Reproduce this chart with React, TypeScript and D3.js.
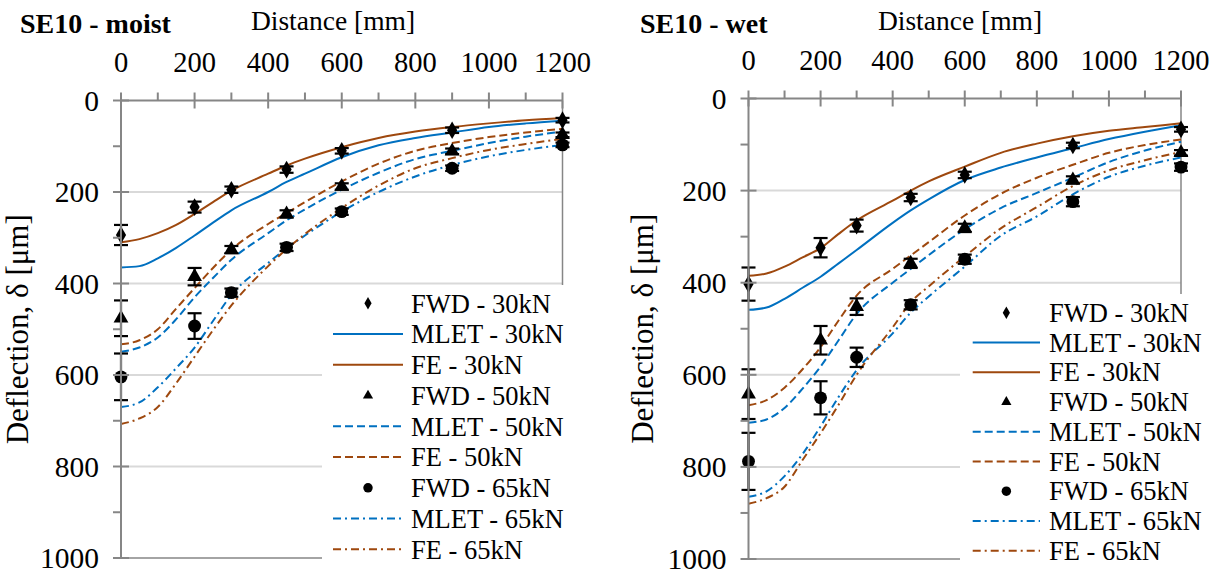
import { scaleLinear, line, curveMonotoneX, symbol, symbolDiamond, symbolTriangle, symbolCircle, range } from 'd3'

const width = 1227
const height = 581

const font = "'Liberation Serif', 'Times New Roman', Times, serif"
const blue = '#0070c0'
const brown = '#9e480e'
const axisColor = '#868686'
const gridColor = '#d9d9d9'

// FWD geophone offsets
const fwdDist = [0, 200, 300, 450, 600, 900, 1200]
// model output sampling
const modelDist = [0, 50, 100, 150, 200, 250, 300, 400, 450, 500, 600, 700, 800, 900, 1000, 1100, 1200]

const xTicks = [0, 200, 400, 600, 800, 1000, 1200]
const yTicks = [0, 200, 400, 600, 800, 1000]
const gridTicks = [200, 400, 600, 800]

// SE10 - moist
const moistFwd30 = [294, 233, 195, 151, 110, 65, 43]
const moistFwd30Err = [22, 12, 7, 7, 6, 6, 5]
const moistFwd50 = [476, 385, 326, 248, 188, 111, 75]
const moistFwd50Err = [39, 19, 8, 8, 7, 6, 5]
const moistFwd65 = [604, 493, 420, 321, 243, 148, 97]
const moistFwd65Err = [51, 28, 9, 8, 7, 6, 5]
const moistMlet30 = [365, 362, 345, 322, 295, 267, 240, 200, 178, 160, 124, 98, 82, 70, 58, 50, 44]
const moistFe30 = [310, 303, 290, 272, 248, 222, 197, 160, 142, 127, 102, 82, 68, 58, 50, 43, 38]
const moistMlet50 = [549, 540, 518, 478, 430, 388, 348, 290, 262, 238, 195, 158, 128, 110, 93, 79, 68]
const moistFe50 = [533, 524, 500, 455, 410, 366, 326, 270, 246, 222, 177, 138, 110, 93, 80, 70, 62]
const moistMlet65 = [670, 660, 627, 585, 540, 482, 425, 355, 323, 295, 243, 200, 166, 141, 122, 108, 97]
const moistFe65 = [707, 695, 670, 618, 560, 502, 448, 362, 325, 292, 235, 186, 148, 126, 108, 95, 84]

// SE10 - wet
const wetFwd30 = [403, 324, 276, 215, 166, 102, 67]
const wetFwd30Err = [36, 21, 13, 8, 7, 6, 5]
const wetFwd50 = [642, 525, 452, 358, 281, 177, 118]
const wetFwd50Err = [54, 31, 18, 10, 9, 8, 6]
const wetFwd65 = [788, 650, 562, 448, 349, 224, 149]
const wetFwd65Err = [62, 36, 21, 10, 10, 10, 8]
const wetMlet30 = [459, 454, 435, 411, 387, 358, 329, 270, 243, 219, 177, 150, 128, 108, 88, 72, 58]
const wetFe30 = [385, 380, 365, 345, 325, 294, 265, 222, 200, 180, 148, 118, 98, 82, 70, 62, 54]
const wetMlet50 = [704, 697, 672, 630, 582, 525, 468, 400, 370, 340, 284, 238, 205, 172, 138, 113, 94]
const wetFe50 = [666, 655, 628, 588, 540, 482, 428, 370, 341, 312, 254, 207, 172, 144, 118, 101, 89]
const wetMlet65 = [865, 853, 820, 772, 712, 648, 590, 510, 465, 430, 365, 298, 256, 208, 170, 146, 128]
const wetFe65 = [880, 868, 843, 785, 727, 665, 600, 497, 443, 408, 343, 282, 236, 190, 156, 134, 116]

const legendLabels = [
  'FWD - 30kN', 'MLET - 30kN', 'FE - 30kN',
  'FWD - 50kN', 'MLET - 50kN', 'FE - 50kN',
  'FWD - 65kN', 'MLET - 65kN', 'FE - 65kN',
]

const dashes = ['none', '8 4', '8 4 2 4']
const shapes = [symbolDiamond, symbolTriangle, symbolCircle]
const shapeSizes = [90, 95, 130]
const legendSizes = [45, 45, 70]

function Panel({ title, xr, yr, fwd, fwdErr, mlet, fe, titleX, distX, yTitleX, legend }) {
  const x = scaleLinear().domain([0, 1200]).range(xr)
  const y = scaleLinear().domain([0, 1000]).range(yr)
  const path = line().x((d, i) => x(modelDist[i])).y((d) => y(d)).curve(curveMonotoneX)

  const rowY = (i) => legend.y0 + i * legend.step
  const txt = { fontFamily: font }
  return (
    <g fill="#000">
      {/* gridlines */}
      {gridTicks.map((t) => (
        <line key={t} x1={xr[0]} x2={xr[1]} y1={y(t)} y2={y(t)} stroke={gridColor} strokeWidth={2} />
      ))}
      {/* plot border right / bottom */}
      <line x1={xr[1]} x2={xr[1]} y1={yr[0]} y2={yr[1]} stroke={axisColor} strokeWidth={1.5} />
      <line x1={xr[0]} x2={xr[1]} y1={yr[1]} y2={yr[1]} stroke={axisColor} strokeWidth={1.5} />

      {/* model lines */}
      {[0, 1, 2].map((k) => (
        <g key={k}>
          <path d={path(mlet[k])} fill="none" stroke={blue} strokeWidth={2} strokeDasharray={dashes[k]} />
          <path d={path(fe[k])} fill="none" stroke={brown} strokeWidth={2} strokeDasharray={dashes[k]} />
        </g>
      ))}

      {/* FWD points with error bars */}
      {[0, 1, 2].map((k) => (
        <g key={k}>
          {fwd[k].map((v, i) => {
            const cx = x(fwdDist[i])
            const lo = y(v - fwdErr[k][i])
            const hi = y(v + fwdErr[k][i])
            return (
              <g key={i}>
                <line x1={cx} x2={cx} y1={lo} y2={hi} stroke="#000" strokeWidth={2.2} />
                <line x1={cx - 7} x2={cx + 7} y1={lo} y2={lo} stroke="#000" strokeWidth={2.2} />
                <line x1={cx - 7} x2={cx + 7} y1={hi} y2={hi} stroke="#000" strokeWidth={2.2} />
                <path
                  transform={`translate(${cx},${y(v)})`}
                  d={symbol(shapes[k], shapeSizes[k])()}
                  fill="#000"
                />
              </g>
            )
          })}
        </g>
      ))}

      {/* axes */}
      <line x1={xr[0]} x2={xr[1]} y1={yr[0]} y2={yr[0]} stroke={axisColor} strokeWidth={2} />
      <line x1={xr[0]} x2={xr[0]} y1={yr[0]} y2={yr[1]} stroke={axisColor} strokeWidth={2} />
      {range(0, 1201, 100).map((t) => (
        <line
          key={t}
          x1={x(t)}
          x2={x(t)}
          y1={yr[0] - 8}
          y2={t % 200 === 0 ? yr[0] + 8 : yr[0]}
          stroke={axisColor}
          strokeWidth={2}
        />
      ))}
      {range(0, 1001, 100).map((t) => (
        <line
          key={t}
          y1={y(t)}
          y2={y(t)}
          x1={xr[0] - 8}
          x2={t % 200 === 0 ? xr[0] + 8 : xr[0]}
          stroke={axisColor}
          strokeWidth={2}
        />
      ))}
      {xTicks.map((t) => (
        <text key={t} style={txt} x={x(t)} y={yr[0] - 29} textAnchor="middle" fontSize={28.5}>
          {t}
        </text>
      ))}
      {yTicks.map((t) => (
        <text key={t} style={txt} x={xr[0] - 22} y={y(t)} dy="0.35em" textAnchor="end" fontSize={29.5}>
          {t}
        </text>
      ))}
      <text style={txt} x={titleX} y={33} fontSize={28} fontWeight="bold">
        {title}
      </text>
      <text style={txt} x={distX} y={30} textAnchor="middle" fontSize={27.5}>
        Distance [mm]
      </text>
      <text
        style={txt}
        transform={`translate(${yTitleX},${(yr[0] + yr[1]) / 2}) rotate(-90)`}
        textAnchor="middle"
        fontSize={31}
      >
        Deflection, δ [μm]
      </text>

      {/* legend */}
      <rect x={legend.x} y={legend.y} width={legend.w} height={legend.h} fill="#fff" />
      {legendLabels.map((label, i) => {
        const k = Math.floor(i / 3)
        const kind = i % 3
        const ly = rowY(i)
        return (
          <g key={label}>
            {kind === 0 ? (
              <path
                transform={`translate(${(legend.lx0 + legend.lx1) / 2},${ly})`}
                d={symbol(shapes[k], legendSizes[k])()}
                fill="#000"
              />
            ) : (
              <line
                x1={legend.lx0}
                x2={legend.lx1}
                y1={ly}
                y2={ly}
                stroke={kind === 1 ? blue : brown}
                strokeWidth={2}
                strokeDasharray={dashes[k]}
              />
            )}
            <text style={txt} x={legend.tx} y={ly} dy="0.35em" fontSize={26.5}>
              {label}
            </text>
          </g>
        )
      })}
    </g>
  )
}

export default function App() {
  return (
    <svg
      width={width}
      height={height}
      style={{ position: 'absolute', left: 0, top: 0, background: '#fff' }}
    >
      <rect width={width} height={height} fill="#fff" />
      <Panel
        title="SE10 - moist"
        titleX={20}
        distX={333}
        yTitleX={28}
        xr={[121, 562.5]}
        yr={[100.5, 558]}
        fwd={[moistFwd30, moistFwd50, moistFwd65]}
        fwdErr={[moistFwd30Err, moistFwd50Err, moistFwd65Err]}
        mlet={[moistMlet30, moistMlet50, moistMlet65]}
        fe={[moistFe30, moistFe50, moistFe65]}
        legend={{ x: 322, y: 285, w: 250, h: 280, y0: 303.3, step: 30.75, lx0: 333, lx1: 403, tx: 411 }}
      />
      <Panel
        title="SE10 - wet"
        titleX={640}
        distX={960}
        yTitleX={653}
        xr={[748.5, 1181]}
        yr={[98.5, 559]}
        fwd={[wetFwd30, wetFwd50, wetFwd65]}
        fwdErr={[wetFwd30Err, wetFwd50Err, wetFwd65Err]}
        mlet={[wetMlet30, wetMlet50, wetMlet65]}
        fe={[wetFe30, wetFe50, wetFe65]}
        legend={{ x: 960, y: 294, w: 267, h: 270, y0: 312.7, step: 29.75, lx0: 972.7, lx1: 1040, tx: 1049 }}
      />
    </svg>
  )
}
